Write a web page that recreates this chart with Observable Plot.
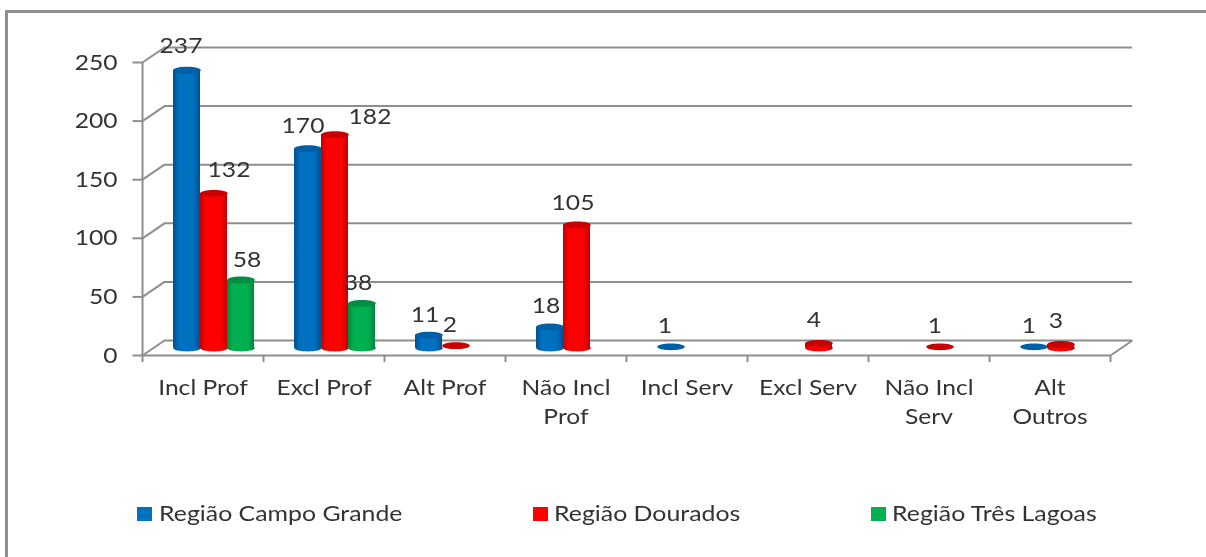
<!DOCTYPE html>
<html><head><meta charset="utf-8">
<script src="https://cdn.jsdelivr.net/npm/d3@7"></script>
<script src="https://cdn.jsdelivr.net/npm/@observablehq/plot@0.6"></script>
<style>
html,body{margin:0;padding:0;background:#fff;}
#chart{position:relative;width:1206px;height:557px;overflow:hidden;font-family:Lato,sans-serif;color:#333;filter:blur(0.45px);}
#chart svg{position:absolute;left:0;top:0;}
#frame{position:absolute;left:5px;top:10px;width:1300px;height:600px;border:3px solid #8f8f8f;box-sizing:border-box;}
.lg{position:absolute;top:500px;font-size:22px;line-height:26px;white-space:nowrap;transform:scaleX(1.13);transform-origin:left center;}
.sw{position:absolute;top:507px;width:15px;height:14px;}
</style></head>
<body><div id="chart"><div id="frame"></div></div>
<script>
const categories = ["Incl Prof","Excl Prof","Alt Prof","Não Incl Prof","Incl Serv","Excl Serv","Não Incl Serv","Alt Outros"];
const categoryLabels = ["Incl Prof","Excl Prof","Alt Prof","Não Incl\nProf","Incl Serv","Excl Serv","Não Incl\nServ","Alt\nOutros"];
const seriesNames = ["Região Campo Grande","Região Dourados","Região Três Lagoas"];
const campoGrande = [237,170,11,18,1,null,null,1];
const dourados    = [132,182,2,105,null,4,1,3];
const tresLagoas  = [58,38,null,null,null,null,null,null];
const yTicks = [0,50,100,150,200,250];
const colors = ["#0070c0","#ff0000","#00b050"];
const edges  = ["#00508f","#c40000","#00863c"];
const tops   = ["#005fa6","#c80000","#008f42"];

// label nudges from the bar top (px): "series-category"
const nudges = {
  "0-0":[-6,-24],"1-0":[15,-23],"2-0":[6,-20],
  "0-1":[-5,-23],"1-1":[35,-18],"2-1":[-4,-21],
  "0-2":[-4,-20],"1-2":[-6,-21],
  "0-3":[-4,-21],"1-3":[-4,-22],
  "0-4":[-6,-21],
  "1-5":[-5,-23],
  "1-6":[-5,-21],
  "0-7":[-5,-21],"1-7":[-5,-24]
};

const rows = [];
[campoGrande,dourados,tresLagoas].forEach((vals,s)=>vals.forEach((v,c)=>{
  if(v!=null) rows.push({s,c,v,cat:categories[c],series:seriesNames[s]});
}));

// geometry of the fake 3D box, in scale units
const depthX = 22/121, depthY = 15/1.172;
const footY = depthY/2;
const barW = 27/121;
const barX = d => d.c + 0.5 + (d.s-1)*barW + depthX/2;

function ellipse(rx,ry){
  const k=0.5523;
  return {draw(p){
    p.moveTo(-rx,0);
    p.bezierCurveTo(-rx,-ry*k,-rx*k,-ry,0,-ry);
    p.bezierCurveTo(rx*k,-ry,rx,-ry*k,rx,0);
    p.bezierCurveTo(rx,ry*k,rx*k,ry,0,ry);
    p.bezierCurveTo(-rx*k,ry,-rx,ry*k,-rx,0);
    p.closePath();
  }};
}
const capSym = ellipse(13.8,3.4);

const defs = () => {
  const ns="http://www.w3.org/2000/svg";
  const d=document.createElementNS(ns,"defs");
  colors.forEach((col,i)=>{
    const g=document.createElementNS(ns,"linearGradient");
    g.setAttribute("id","cyl"+i);
    [[0,edges[i]],[0.22,col],[0.75,col],[1,edges[i]]].forEach(([o,c])=>{
      const st=document.createElementNS(ns,"stop");
      st.setAttribute("offset",o);st.setAttribute("stop-color",c);g.appendChild(st);
    });
    d.appendChild(g);
  });
  return d;
};

const axisColor="#8e8e8e";
const marks=[
  defs,
  Plot.ruleY(yTicks,{y:d=>d+depthY,x1:depthX,x2:8+depthX,stroke:axisColor,strokeWidth:2}),
  Plot.link(yTicks,{x1:0,x2:depthX,y1:d=>d,y2:d=>d+depthY,stroke:axisColor,strokeWidth:2}),
  Plot.link([0],{x1:8,x2:8+depthX,y1:0,y2:depthY,stroke:axisColor,strokeWidth:2}),
  Plot.ruleX([0],{y1:0,y2:250,stroke:axisColor,strokeWidth:2}),
  Plot.ruleY([0],{x1:0,x2:8,stroke:axisColor,strokeWidth:2}),
  Plot.link(yTicks,{x1:-10/121,x2:0,y1:d=>d,y2:d=>d,stroke:axisColor,strokeWidth:2}),
  Plot.ruleX(d3.range(9),{x:d=>d,y1:0,y2:-6,stroke:axisColor,strokeWidth:2}),
  Plot.text(yTicks,{x:-10/121,y:d=>d,dx:-15,text:d=>String(d),textAnchor:"end",fontSize:22,fill:"#333",fontFamily:"Lato"}),
  Plot.text(categoryLabels,{x:(d,i)=>i+0.5,y:-16,text:d=>d,lineHeight:1.32,lineAnchor:"top",fontSize:22,fill:"#333",fontFamily:"Lato"})
];

// cylinders
[0,1,2].forEach(s=>{
  const r=rows.filter(d=>d.s===s);
  const big=r.filter(d=>d.v>=3);
  marks.push(Plot.dot(big,{x:barX,y:()=>footY,symbol:capSym,r:1,fill:`url(#cyl${s})`,stroke:"none"}));
  marks.push(Plot.rectY(big,{x1:d=>barX(d)-barW/2,x2:d=>barX(d)+barW/2,y1:()=>footY,y2:d=>d.v+footY,fill:`url(#cyl${s})`}));
  marks.push(Plot.dot(r,{x:barX,y:d=>d.v+footY,symbol:capSym,r:1,fill:tops[s],stroke:"none"}));
});

// value labels
rows.forEach(d=>{
  const n=nudges[d.s+"-"+d.c];
  marks.push(Plot.text([d],{x:barX,y:d=>d.v+footY,dx:n[0],dy:n[1],text:d=>String(d.v),fontSize:22,fill:"#333",fontFamily:"Lato"}));
});

const plot=Plot.plot({
  width:1206,height:557,
  margin:0,
  style:{background:"transparent",overflow:"visible"},
  x:{type:"linear",domain:[0,8],range:[142,1110],axis:null},
  y:{type:"linear",domain:[0,250],range:[355,62],axis:null},
  marks
});
// the reference's face is Calibri stretched horizontally: widen the real text the same way
plot.querySelectorAll("text").forEach(t=>{
  t.setAttribute("transform",(t.getAttribute("transform")||"")+" scale(1.12,1)");
});
const chart=document.getElementById("chart");
chart.appendChild(plot);

const swX=[137,533,871], txX=[159,554,892];
seriesNames.forEach((n,i)=>{
  const sw=document.createElement("div");sw.className="sw";sw.style.left=swX[i]+"px";sw.style.background=colors[i];
  const t=document.createElement("div");t.className="lg";t.style.left=txX[i]+"px";t.textContent=n;
  chart.append(sw,t);
});
</script></body></html>
